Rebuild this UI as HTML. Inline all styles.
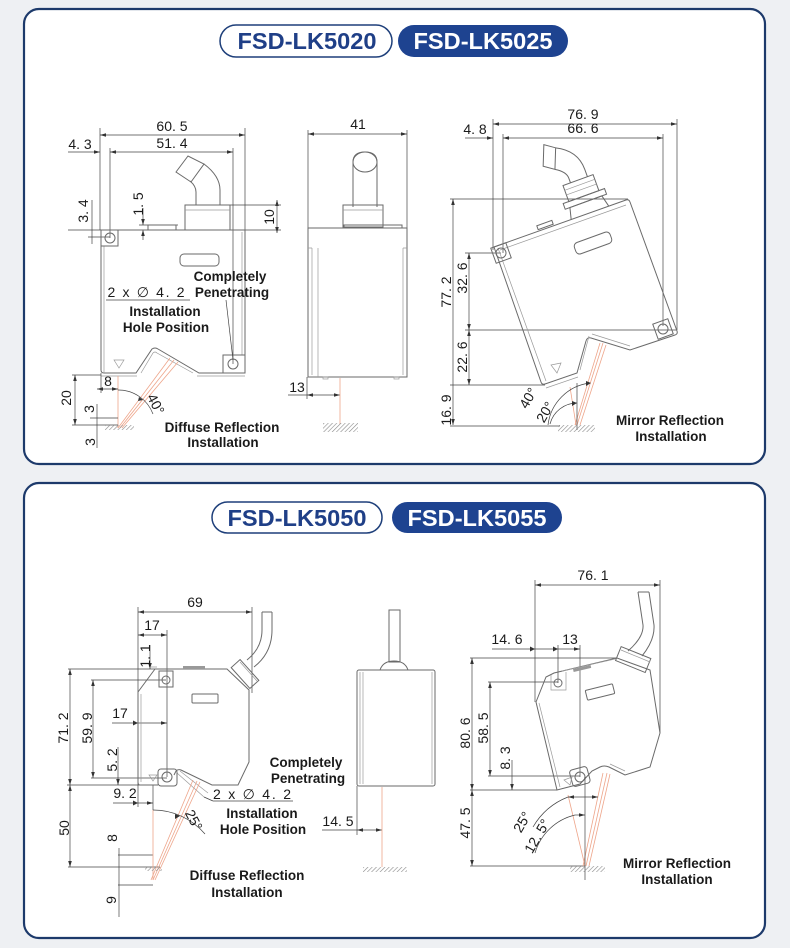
<!DOCTYPE html>
<html><head><meta charset="utf-8"><style>
html,body{margin:0;padding:0;background:#eef0f3;}
svg{display:block;}
.o{stroke:#6a6a6a;stroke-width:1;fill:none;}
.i{stroke:#9a9a9a;stroke-width:0.7;fill:none;}
.t{stroke:#444;stroke-width:0.7;fill:none;}
.r{stroke:#eea58a;stroke-width:0.8;fill:none;}
.d{font-family:"Liberation Sans",sans-serif;font-size:14px;fill:#1a1a1a;text-anchor:middle;}
.l{font-family:"Liberation Sans",sans-serif;font-size:13.5px;font-weight:bold;fill:#1a1a1a;text-anchor:middle;}
.p{font-family:"Liberation Sans",sans-serif;font-size:23px;font-weight:bold;text-anchor:middle;}
</style></head><body>
<svg width="790" height="948" viewBox="0 0 790 948" xmlns="http://www.w3.org/2000/svg">
<defs>
<marker id="a" viewBox="0 0 10 10" refX="10" refY="5" markerWidth="6" markerHeight="6" markerUnits="userSpaceOnUse" orient="auto-start-reverse"><path d="M0,2 L10,5 L0,8 z" fill="#333"/></marker>
<pattern id="h" width="3" height="3" patternUnits="userSpaceOnUse" patternTransform="rotate(45)"><line x1="0" y1="0" x2="0" y2="3" stroke="#8a8a8a" stroke-width="1.2"/></pattern>
</defs>
<rect x="0" y="0" width="790" height="948" fill="#eef0f3"/>
<!-- panels -->
<rect x="24" y="9" width="741" height="455" rx="15" fill="#fff" stroke="#1d3a6b" stroke-width="2.2"/>
<rect x="24" y="483" width="741" height="455" rx="15" fill="#fff" stroke="#1d3a6b" stroke-width="2.2"/>

<!-- pills -->
<rect x="220" y="25" width="172" height="32" rx="16" fill="#fff" stroke="#1e3f7a" stroke-width="1.5"/>
<text class="p" x="307" y="49" fill="#1f3f87" textLength="139" lengthAdjust="spacingAndGlyphs">FSD-LK5020</text>
<rect x="398" y="25" width="170" height="32" rx="16" fill="#1e4390"/>
<text class="p" x="483" y="49" fill="#fff" textLength="139" lengthAdjust="spacingAndGlyphs">FSD-LK5025</text>
<rect x="212" y="502" width="170" height="31" rx="15.5" fill="#fff" stroke="#1e3f7a" stroke-width="1.5"/>
<text class="p" x="297" y="526" fill="#1f3f87" textLength="139" lengthAdjust="spacingAndGlyphs">FSD-LK5050</text>
<rect x="392" y="502" width="170" height="31" rx="15.5" fill="#1e4390"/>
<text class="p" x="477" y="526" fill="#fff" textLength="139" lengthAdjust="spacingAndGlyphs">FSD-LK5055</text>

<!-- ============ DRAWING 1 ============ -->
<g>
<line class="t" x1="100" y1="135" x2="245" y2="135" marker-start="url(#a)" marker-end="url(#a)"/>
<text class="d" x="172" y="131">60. 5</text>
<line class="t" x1="110" y1="152" x2="233" y2="152" marker-start="url(#a)" marker-end="url(#a)"/>
<line class="t" x1="68" y1="152" x2="100" y2="152" marker-end="url(#a)"/>
<text class="d" x="80" y="149">4. 3</text>
<text class="d" x="172" y="148">51. 4</text>
<line class="t" x1="100" y1="128" x2="100" y2="230"/>
<line class="t" x1="110" y1="148" x2="110" y2="238"/>
<line class="t" x1="233" y1="148" x2="233" y2="364"/>
<line class="t" x1="245" y1="128" x2="245" y2="230"/>
<!-- 1.5 -->
<line class="t" x1="143" y1="208" x2="143" y2="225" marker-end="url(#a)"/>
<line class="t" x1="143" y1="240" x2="143" y2="230" marker-end="url(#a)"/>
<line class="t" x1="139" y1="225" x2="178" y2="225"/>
<text class="d" transform="translate(138,204) rotate(-90)" y="5">1. 5</text>
<!-- 3.4 -->
<line class="t" x1="92" y1="200" x2="92" y2="244"/>
<line class="t" x1="68" y1="230" x2="101" y2="230"/>
<line class="t" x1="88" y1="237" x2="110" y2="237"/>
<text class="d" transform="translate(83,211) rotate(-90)" y="5">3. 4</text>
<!-- 10 -->
<line class="t" x1="277" y1="200" x2="277" y2="233" marker-start="url(#a)" marker-end="url(#a)"/>
<line class="t" x1="222" y1="205" x2="281" y2="205"/>
<line class="t" x1="245" y1="230" x2="281" y2="230"/>
<text class="d" transform="translate(269,217) rotate(-90)" y="5">10</text>
<!-- body -->
<path class="o" d="M101,230 H245 V373 H199 L158,349 Q155,347 152,349 L136,373 H104 Q101,373 101,370 Z"/>
<path class="i" d="M104,246 V373 M242,232 V355 M141,373 L153,353 Q155,351 157,353 L193,373 M101,376 H137 M197,376 H245"/>
<rect class="o" x="101" y="230" width="17" height="16"/>
<circle class="o" cx="110" cy="238" r="5"/>
<rect class="o" x="223" y="355" width="22" height="18"/>
<circle class="o" cx="233" cy="364" r="5"/>
<rect class="o" x="180" y="254" width="39" height="12" rx="4"/>
<rect class="o" x="148" y="225" width="28" height="5"/>
<rect class="o" x="185" y="205" width="45" height="25"/>
<line class="i" x1="185" y1="210" x2="230" y2="210"/>
<path class="o" d="M196,205 V192 Q196,186 190,181 M220,205 V190 Q220,176 204,164"/>
<path class="o" d="M176,172 L188,156 L204,164 L191,182 Z"/>
<path class="i" d="M114,360 L124,360 L119,368 Z"/>
<!-- laser -->
<line class="r" x1="170" y1="358" x2="118" y2="428"/>
<line class="r" x1="174" y1="360" x2="120" y2="428"/>
<line class="r" x1="178" y1="362" x2="122" y2="428"/>
<line class="r" x1="118" y1="376" x2="118" y2="428"/>
<!-- lower dims -->
<line class="t" x1="97" y1="389" x2="118" y2="389" marker-start="url(#a)" marker-end="url(#a)"/>
<line class="t" x1="101" y1="373" x2="101" y2="393"/>
<text class="d" x="108" y="386">8</text>
<line class="t" x1="75" y1="375" x2="75" y2="425" marker-start="url(#a)" marker-end="url(#a)"/>
<line class="t" x1="72" y1="375" x2="101" y2="375"/>
<text class="d" transform="translate(66,398) rotate(-90)" y="5">20</text>
<line class="t" x1="90" y1="418" x2="118" y2="418"/>
<line class="t" x1="72" y1="425" x2="118" y2="425"/>
<line class="t" x1="97" y1="404" x2="97" y2="448"/>
<text class="d" transform="translate(89,409) rotate(-90)" y="5">3</text>
<text class="d" transform="translate(90,442) rotate(-90)" y="5">3</text>
<rect x="105" y="425" width="29" height="5" fill="url(#h)"/>
<path class="t" d="M118,390 A37,37 0 0 1 153,414"/>
<path d="M139,397 L143,400 L138,401 Z" fill="#333"/>
<text class="d" transform="translate(156,404) rotate(62)" y="5">40°</text>
<!-- labels -->
<text class="l" x="230" y="281">Completely</text>
<text class="l" x="232" y="297">Penetrating</text>
<line class="t" x1="226" y1="300" x2="233" y2="360"/>
<text class="d" x="146" y="297" textLength="77" lengthAdjust="spacing">2 x ∅ 4. 2</text>
<line class="t" x1="106" y1="300" x2="190" y2="300"/>
<text class="l" x="165" y="316">Installation</text>
<text class="l" x="166" y="332">Hole Position</text>
<text class="l" x="222" y="432">Diffuse Reflection</text>
<text class="l" x="223" y="447">Installation</text>
</g>

<!-- ============ DRAWING 2 ============ -->
<g>
<line class="t" x1="308" y1="134" x2="407" y2="134" marker-start="url(#a)" marker-end="url(#a)"/>
<text class="d" x="358" y="129">41</text>
<line class="t" x1="308" y1="130" x2="308" y2="228"/>
<line class="t" x1="407" y1="130" x2="407" y2="228"/>
<path class="o" d="M353,207 V162 Q353,152 365,152 Q377,152 377,162 V207"/>
<ellipse class="o" cx="365" cy="162" rx="12" ry="10"/>
<rect class="o" x="343" y="205" width="40" height="22"/>
<line class="i" x1="343" y1="210" x2="383" y2="210"/>
<rect class="o" x="344" y="225" width="58" height="3"/>
<path class="o" d="M308,228 H407 V377 H308 Z"/>
<path class="i" d="M312,248 V375 M318,248 V377 M403,248 V375 M308,248 H312 M403,248 H407"/>
<rect class="i" x="323" y="377" width="5" height="2"/>
<rect class="i" x="394" y="377" width="5" height="2"/>
<line class="t" x1="307" y1="377" x2="307" y2="399"/>
<line class="t" x1="307" y1="395" x2="340" y2="395" marker-start="url(#a)" marker-end="url(#a)"/>
<line class="t" x1="288" y1="395" x2="307" y2="395"/>
<text class="d" x="297" y="392">13</text>
<line class="r" x1="340" y1="378" x2="340" y2="424"/>
<rect x="323" y="423" width="35" height="9" fill="url(#h)"/>
</g>

<!-- ============ DRAWING 3 ============ -->
<g>
<line class="t" x1="493" y1="124" x2="677" y2="124" marker-start="url(#a)" marker-end="url(#a)"/>
<text class="d" x="583" y="119">76. 9</text>
<line class="t" x1="503" y1="138" x2="663" y2="138" marker-start="url(#a)" marker-end="url(#a)"/>
<line class="t" x1="465" y1="138" x2="493" y2="138" marker-end="url(#a)"/>
<text class="d" x="583" y="133">66. 6</text>
<text class="d" x="475" y="134">4. 8</text>
<line class="t" x1="493" y1="119" x2="493" y2="250"/>
<line class="t" x1="503" y1="134" x2="503" y2="253"/>
<line class="t" x1="663" y1="134" x2="663" y2="326"/>
<line class="t" x1="677" y1="119" x2="677" y2="330"/>
<line class="t" x1="453" y1="199" x2="453" y2="425" marker-start="url(#a)" marker-end="url(#a)"/>
<text class="d" transform="translate(446,292) rotate(-90)" y="5">77. 2</text>
<line class="t" x1="469" y1="253" x2="469" y2="330" marker-start="url(#a)" marker-end="url(#a)"/>
<text class="d" transform="translate(462,278) rotate(-90)" y="5">32. 6</text>
<line class="t" x1="469" y1="330" x2="469" y2="385" marker-start="url(#a)" marker-end="url(#a)"/>
<text class="d" transform="translate(462,357) rotate(-90)" y="5">22. 6</text>
<text class="d" transform="translate(446,410) rotate(-90)" y="5">16. 9</text>
<line class="t" x1="450" y1="199" x2="628" y2="199"/>
<line class="t" x1="465" y1="253" x2="501" y2="253"/>
<line class="t" x1="465" y1="330" x2="677" y2="330"/>
<line class="t" x1="450" y1="385" x2="545" y2="385"/>
<line class="t" x1="450" y1="426" x2="560" y2="426"/>
<!-- body -->
<path class="o" d="M494,247 L626,200 Q629,199 630,202 L677,331 Q678,334 675,335 L630,350 L591,338 Q587,337 586,341 L577,373 L545,384 Q542,385 541,382 Z"/>
<path class="i" d="M498,248 L546,381 M500,250 L626,205 M630,346 L592,334 M589,336 L580,370 M578,377 L546,388"/>
<rect class="o" x="493" y="245" width="16" height="16" transform="rotate(-20 501 253)"/>
<circle class="o" cx="501" cy="253" r="5"/>
<rect class="o" x="655" y="321" width="16" height="16" transform="rotate(-20 663 329)"/>
<circle class="o" cx="663" cy="329" r="5"/>
<rect class="o" x="574" y="237" width="38" height="12" rx="4" transform="rotate(-20 593 243)"/>
<rect class="o" x="537" y="223" width="16" height="4" transform="rotate(-20 545 225)"/>
<g transform="rotate(-20 590 213)">
<path class="o" d="M570,213 L573,201 H607 L610,213"/>
<rect class="o" x="568" y="195" width="44" height="6"/>
<rect class="o" x="574" y="178" width="32" height="17"/>
<line class="i" x1="574" y1="183" x2="606" y2="183"/>
<line class="i" x1="574" y1="188" x2="606" y2="188"/>
<path class="o" d="M600,178 V170 Q600,150 580,140 M582,178 V173 Q582,166 572,160"/>
<path class="o" d="M580,140 L572,160 L562,153 L570,133 Z"/>
</g>
<path class="i" d="M551,365 L561,363 L557,373 Z"/>
<!-- laser -->
<line class="r" x1="600" y1="343" x2="575" y2="425"/>
<line class="r" x1="603" y1="343" x2="577" y2="425"/>
<line class="r" x1="606" y1="345" x2="580" y2="425"/>
<line class="r" x1="570" y1="387" x2="576" y2="425"/>
<line class="t" x1="577" y1="383" x2="577" y2="430"/>
<rect x="558" y="425" width="37" height="7" fill="url(#h)"/>
<path class="t" d="M548,425 A48,48 0 0 1 590,383"/>
<path class="t" d="M550,424 A28,28 0 0 1 577,403"/>
<path d="M586,381 L591,383 L586,386 Z" fill="#333"/>
<path d="M572,401 L577,403 L572,406 Z" fill="#333"/>
<text class="d" transform="translate(528,398) rotate(-60)" y="5">40°</text>
<text class="d" transform="translate(545,412) rotate(-60)" y="5">20°</text>
<text class="l" x="670" y="425">Mirror Reflection</text>
<text class="l" x="671" y="441">Installation</text>
</g>

<!-- ============ DRAWING 4 ============ -->
<g>
<line class="t" x1="138" y1="612" x2="252" y2="612" marker-start="url(#a)" marker-end="url(#a)"/>
<text class="d" x="195" y="607">69</text>
<line class="t" x1="138" y1="635" x2="167" y2="635" marker-start="url(#a)" marker-end="url(#a)"/>
<text class="d" x="152" y="630">17</text>
<line class="t" x1="138" y1="607" x2="138" y2="807"/>
<line class="t" x1="167" y1="630" x2="167" y2="777"/>
<line class="t" x1="252" y1="607" x2="252" y2="693"/>
<line class="t" x1="150" y1="645" x2="150" y2="669" marker-end="url(#a)"/>
<text class="d" transform="translate(145,656) rotate(-90)" y="5">1. 1</text>
<line class="t" x1="70" y1="669" x2="70" y2="785" marker-start="url(#a)" marker-end="url(#a)"/>
<text class="d" transform="translate(63,728) rotate(-90)" y="5">71. 2</text>
<line class="t" x1="93" y1="680" x2="93" y2="778" marker-start="url(#a)" marker-end="url(#a)"/>
<text class="d" transform="translate(87,728) rotate(-90)" y="5">59. 9</text>
<line class="t" x1="68" y1="669" x2="155" y2="669"/>
<line class="t" x1="91" y1="680" x2="166" y2="680"/>
<line class="t" x1="91" y1="778" x2="167" y2="778"/>
<line class="t" x1="67" y1="785" x2="153" y2="785"/>
<line class="t" x1="112" y1="723" x2="167" y2="723" marker-end="url(#a)"/>
<path d="M138,723 L133,720.5 L133,725.5 Z" fill="#333"/>
<text class="d" x="120" y="718">17</text>
<line class="t" x1="118" y1="747" x2="118" y2="785" marker-end="url(#a)"/>
<text class="d" transform="translate(112,760) rotate(-90)" y="5">5. 2</text>
<line class="t" x1="113" y1="803" x2="153" y2="803" marker-end="url(#a)"/>
<path d="M138,803 L133,800.5 L133,805.5 Z" fill="#333"/>
<text class="d" x="125" y="798">9. 2</text>
<line class="t" x1="70" y1="785" x2="70" y2="867" marker-start="url(#a)" marker-end="url(#a)"/>
<text class="d" transform="translate(64,828) rotate(-90)" y="5">50</text>
<line class="t" x1="118" y1="855" x2="153" y2="855"/>
<line class="t" x1="68" y1="867" x2="160" y2="867"/>
<line class="t" x1="118" y1="885" x2="153" y2="885"/>
<line class="t" x1="119" y1="848" x2="119" y2="917"/>
<text class="d" transform="translate(112,838) rotate(-90)" y="5">8</text>
<text class="d" transform="translate(111,900) rotate(-90)" y="5">9</text>
<line class="t" x1="153" y1="785" x2="153" y2="810"/>
<!-- body -->
<path class="o" d="M155,669 H227 L249,690 V762 L238,785 H212 L181,770 Q178,769 176,771 L174,775 M158,785 H140 Q138,785 138,782 V692 L155,669"/>
<path class="i" d="M141,694 V782 M150,667 H157 M177,773 L204,797 M180,771 L208,793"/>
<line class="t" x1="204" y1="797" x2="213" y2="801"/>
<line class="t" x1="213" y1="801" x2="293" y2="801"/>
<rect x="183" y="666" width="22" height="3" fill="#999"/>
<rect class="o" x="159" y="671" width="14" height="16"/>
<circle class="o" cx="166" cy="680" r="4"/>
<rect class="o" x="158" y="769" width="19" height="17" rx="3"/>
<circle class="o" cx="167" cy="777" r="5"/>
<rect class="o" x="192" y="694" width="26" height="9" rx="1"/>
<path class="i" d="M149,775 L157,775 L153,781 Z"/>
<rect class="o" x="231" y="668" width="28" height="12" transform="rotate(48 245 674)"/>
<line class="i" x1="240" y1="662" x2="257" y2="681"/>
<path class="o" d="M247,660 Q262,648 262,630 V612 M254,667 Q272,653 272,630 V612 M262,612 H272"/>
<!-- laser -->
<line class="r" x1="151" y1="880" x2="193" y2="780"/>
<line class="r" x1="153" y1="880" x2="197" y2="781"/>
<line class="r" x1="155" y1="880" x2="200" y2="782"/>
<line class="r" x1="153" y1="810" x2="153" y2="880"/>
<rect x="145" y="867" width="17" height="4" fill="url(#h)"/>
<path class="t" d="M153,810 A68,68 0 0 1 205,834"/>
<path d="M175,814 L180,816 L175,819 Z" fill="#333"/>
<text class="d" transform="translate(194,820) rotate(62)" y="5">25°</text>
<text class="l" x="306" y="767">Completely</text>
<text class="l" x="308" y="783">Penetrating</text>
<text class="d" x="252" y="799" textLength="78" lengthAdjust="spacing">2 x ∅ 4. 2</text>
<text class="l" x="262" y="818">Installation</text>
<text class="l" x="263" y="834">Hole Position</text>
<text class="l" x="247" y="880">Diffuse Reflection</text>
<text class="l" x="247" y="897">Installation</text>
</g>

<!-- ============ DRAWING 5 ============ -->
<g>
<rect class="o" x="389" y="610" width="11" height="52"/>
<path class="o" d="M380,670 Q383,661 394,661 Q405,661 408,670"/>
<rect class="o" x="357" y="670" width="78" height="116" rx="2"/>
<path class="i" d="M360,672 V784 M363,672 V784 M432,672 V784"/>
<line class="t" x1="357" y1="786" x2="357" y2="835"/>
<line class="t" x1="357" y1="830" x2="382" y2="830" marker-start="url(#a)" marker-end="url(#a)"/>
<line class="t" x1="322" y1="830" x2="357" y2="830"/>
<text class="d" x="338" y="826">14. 5</text>
<line class="r" x1="382" y1="787" x2="382" y2="867"/>
<rect x="363" y="867" width="44" height="5" fill="url(#h)"/>
</g>

<!-- ============ DRAWING 6 ============ -->
<g>
<line class="t" x1="535" y1="585" x2="660" y2="585" marker-start="url(#a)" marker-end="url(#a)"/>
<text class="d" x="593" y="580">76. 1</text>
<line class="t" x1="492" y1="649" x2="580" y2="649" marker-end="url(#a)"/>
<path d="M535,649 L530,646.5 L530,651.5 Z" fill="#333"/>
<path d="M558,649 L553,646.5 L553,651.5 Z" fill="#333"/>
<text class="d" x="507" y="644">14. 6</text>
<text class="d" x="570" y="644">13</text>
<line class="t" x1="535" y1="580" x2="535" y2="702"/>
<line class="t" x1="558" y1="645" x2="558" y2="683"/>
<line class="t" x1="580" y1="645" x2="580" y2="777"/>
<line class="t" x1="660" y1="580" x2="660" y2="733"/>
<line class="t" x1="472" y1="658" x2="472" y2="790" marker-start="url(#a)" marker-end="url(#a)"/>
<text class="d" transform="translate(465,733) rotate(-90)" y="5">80. 6</text>
<line class="t" x1="490" y1="682" x2="490" y2="776" marker-start="url(#a)" marker-end="url(#a)"/>
<text class="d" transform="translate(483,728) rotate(-90)" y="5">58. 5</text>
<line class="t" x1="512" y1="760" x2="512" y2="790" marker-end="url(#a)"/>
<text class="d" transform="translate(505,758) rotate(-90)" y="5">8. 3</text>
<line class="t" x1="472" y1="790" x2="472" y2="866" marker-start="url(#a)" marker-end="url(#a)"/>
<text class="d" transform="translate(465,823) rotate(-90)" y="5">47. 5</text>
<line class="t" x1="470" y1="658" x2="617" y2="658"/>
<line class="t" x1="488" y1="682" x2="558" y2="682"/>
<line class="t" x1="488" y1="776" x2="580" y2="776"/>
<line class="t" x1="470" y1="790" x2="557" y2="790"/>
<line class="t" x1="470" y1="866" x2="585" y2="866"/>
<!-- body -->
<path class="o" d="M536,702 L546,677 L554,673 L617,658 L650,670 L660,733 L650,767 L625,775 L609,767 Q604,765 600,767 L592,771 L580,784 L557,790 Z"/>
<path class="i" d="M539,703 L560,787 M562,671 L615,659 M625,771 L610,764"/>
<rect x="573" y="667" width="18" height="3" fill="#999" transform="rotate(-13 582 668)"/>
<circle class="o" cx="558" cy="683" r="4"/>
<path class="i" d="M551,675 L551,690 L566,690 L566,672"/>
<rect class="o" x="571" y="768" width="18" height="17" rx="3" transform="rotate(-15 580 777)"/>
<circle class="o" cx="580" cy="777" r="5"/>
<rect class="o" x="586" y="687" width="28" height="10" rx="1" transform="rotate(-14 600 692)"/>
<rect class="o" x="617" y="652" width="32" height="15" transform="rotate(22 633 660)"/>
<line class="i" x1="621" y1="650" x2="650" y2="662"/>
<path class="o" d="M638,592 L643,625 Q644,637 628,651 M649,592 L654,625 Q655,640 642,656 M638,592 H649"/>
<path class="i" d="M564,780 L572,777 L570,785 Z"/>
<!-- laser -->
<line class="r" x1="583" y1="866" x2="603" y2="773"/>
<line class="r" x1="586" y1="866" x2="607" y2="773"/>
<line class="r" x1="589" y1="866" x2="610" y2="774"/>
<line class="r" x1="568" y1="795" x2="585" y2="866"/>
<line class="t" x1="585" y1="777" x2="585" y2="880"/>
<rect x="570" y="866" width="35" height="6" fill="url(#h)"/>
<path class="t" d="M533,827 A70,70 0 0 1 568,797"/>
<line class="t" x1="568" y1="797" x2="598" y2="797" marker-start="url(#a)" marker-end="url(#a)"/>
<path class="t" d="M535,853 A55,55 0 0 1 575,815"/>
<line class="t" x1="575" y1="815" x2="585" y2="815" marker-end="url(#a)"/>
<text class="d" transform="translate(522,822) rotate(-60)" y="5">25°</text>
<text class="d" transform="translate(537,836) rotate(-60)" y="5">12. 5°</text>
<text class="l" x="677" y="868">Mirror Reflection</text>
<text class="l" x="677" y="884">Installation</text>
</g>
</svg>
</body></html>
